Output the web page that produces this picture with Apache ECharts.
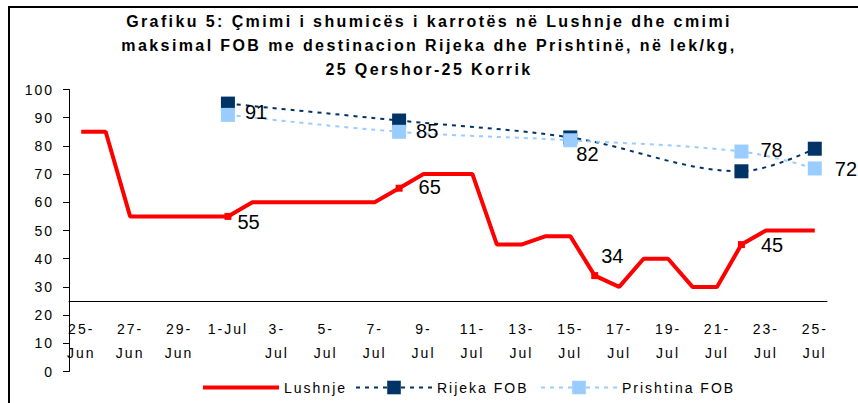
<!DOCTYPE html>
<html>
<head>
<meta charset="utf-8">
<script src="https://cdn.jsdelivr.net/npm/echarts@6/dist/echarts.min.js"></script>
<style>
  html, body { margin: 0; padding: 0; background: #fff; }
  #chart { width: 858px; height: 403px; }
  /* the reference text is letter-spaced (Excel export) */
  #chart text { letter-spacing: 2px; }
  #chart text[style*="16px"] { letter-spacing: 2.4px; }
  #chart text[style*="20px"] { letter-spacing: 0; }
</style>
</head>
<body>
<div id="chart"></div>
<script>
// one category per day, 25 Jun - 25 Jul
var categories = [
  "25-Jun", "26-Jun", "27-Jun", "28-Jun", "29-Jun", "30-Jun",
  "1-Jul", "2-Jul", "3-Jul", "4-Jul", "5-Jul", "6-Jul", "7-Jul", "8-Jul",
  "9-Jul", "10-Jul", "11-Jul", "12-Jul", "13-Jul", "14-Jul", "15-Jul",
  "16-Jul", "17-Jul", "18-Jul", "19-Jul", "20-Jul", "21-Jul", "22-Jul",
  "23-Jul", "24-Jul", "25-Jul"
];
var lushnje = [
  85, 85, 55, 55, 55, 55, 55, 60, 60, 60, 60, 60, 60, 65, 70, 70,
  70, 45, 45, 48, 48, 34, 30, 40, 40, 30, 30, 45, 50, 50, 50
];
// days on which the Lushnje price is marked and labelled
var lushnjeMarked = ["1-Jul", "8-Jul", "16-Jul", "22-Jul"];

var fobDates = ["1-Jul", "8-Jul", "15-Jul", "22-Jul", "25-Jul"];
var rijeka = [95, 89, 83, 71, 79];
var prishtina = [91, 85, 82, 78, 72];

var yMin = 0, yMax = 100, yStep = 10;

// label nudges (px) so they sit where the original has them
var lushnjeLabelOffset = {
  "1-Jul": [6, 6],
  "8-Jul": [16, -1],
  "16-Jul": [3, -20],
  "22-Jul": [16, 0]
};
var prishtinaLabelOffset = {
  "1-Jul": [10, -3],
  "8-Jul": [10, -1],
  "15-Jul": [-1, 14],
  "22-Jul": [12, -2],
  "25-Jul": [13, 1]
};

var FONT = "Liberation Sans";
var RED = "#FF0000", NAVY = "#003366", LIGHT = "#99CCFF";

var lushnjeData = lushnje.map(function (v, i) {
  var day = categories[i];
  if (lushnjeMarked.indexOf(day) < 0) return v;
  return {
    value: v,
    symbol: "rect",
    symbolSize: 7,
    label: { show: true, offset: lushnjeLabelOffset[day] }
  };
});

function fobData(values, offsets) {
  return values.map(function (v, i) {
    var item = { value: [fobDates[i], v] };
    if (offsets) item.label = { show: true, offset: offsets[fobDates[i]] };
    return item;
  });
}

var dataLabel = {
  position: "right",
  distance: 0,
  fontFamily: FONT,
  fontSize: 20,
  color: "#000",
  formatter: function (p) {
    return Array.isArray(p.value) ? p.value[1] : p.value;
  }
};

var legendText = { fontFamily: FONT, fontSize: 14, color: "#000" };

var chart = echarts.init(document.getElementById("chart"), null, { renderer: "svg" });
chart.setOption({
  animation: false,
  backgroundColor: "#fff",
  title: {
    text: "Grafiku 5: Çmimi i shumicës i karrotës në Lushnje dhe cmimi\n" +
      "maksimal FOB me destinacion Rijeka dhe Prishtinë, në lek/kg,\n" +
      "25 Qershor-25 Korrik",
    left: "center",
    top: 9,
    padding: 0,
    textStyle: {
      fontFamily: FONT,
      fontSize: 16,
      fontWeight: "bold",
      lineHeight: 24,
      color: "#000"
    }
  },
  legend: [
    {
      left: 203, top: 380.5, padding: 0,
      itemWidth: 76, itemHeight: 17,
      data: [{ name: "Lushnje", icon: "path://M0,0H76V4H0Z" }],
      textStyle: legendText
    },
    {
      left: 355, top: 380.5, padding: 0,
      itemWidth: 76, itemHeight: 17,
      data: ["Rijeka FOB"],
      textStyle: legendText
    },
    {
      left: 540, top: 380.5, padding: 0,
      itemWidth: 76, itemHeight: 17,
      data: ["Prishtina FOB"],
      textStyle: legendText
    }
  ],
  grid: { left: 69, right: 31, top: 89.5, bottom: 31.5, containLabel: false },
  xAxis: {
    type: "category",
    data: categories,
    boundaryGap: true,
    offset: -70.5,
    axisLine: { lineStyle: { color: "#000", width: 1 } },
    axisTick: { interval: 1, length: 6, lineStyle: { color: "#000" } },
    axisLabel: {
      interval: 1,
      margin: 16,
      fontFamily: FONT,
      fontSize: 14,
      lineHeight: 24,
      color: "#000",
      formatter: function (v) {
        return v === "1-Jul" ? v : v.replace("-", "-\n");
      }
    },
    splitLine: { show: false }
  },
  yAxis: {
    type: "value",
    min: yMin,
    max: yMax,
    interval: yStep,
    axisLine: { show: true, lineStyle: { color: "#000", width: 1 } },
    axisTick: { show: true, length: 6, lineStyle: { color: "#000" } },
    axisLabel: { margin: 15, fontFamily: FONT, fontSize: 14, color: "#000" },
    splitLine: { show: false }
  },
  graphic: [
    { type: "line", shape: { x1: 8, y1: 7, x2: 858, y2: 7 }, style: { stroke: "#000", lineWidth: 2 } },
    { type: "line", shape: { x1: 9, y1: 6, x2: 9, y2: 403 }, style: { stroke: "#000", lineWidth: 2 } }
  ],
  series: [
    {
      name: "Lushnje",
      type: "line",
      data: lushnjeData,
      symbol: "none",
      showAllSymbol: true,
      color: RED,
      itemStyle: { color: RED },
      lineStyle: { color: RED, width: 4 },
      label: dataLabel,
      z: 2
    },
    {
      name: "Rijeka FOB",
      type: "line",
      data: fobData(rijeka, null),
      connectNulls: true,
      smooth: 0.35,
      symbol: "rect",
      symbolSize: 14,
      showAllSymbol: true,
      color: NAVY,
      itemStyle: { color: NAVY },
      lineStyle: { color: NAVY, width: 2, type: [4, 5] },
      z: 3
    },
    {
      name: "Prishtina FOB",
      type: "line",
      data: fobData(prishtina, prishtinaLabelOffset),
      connectNulls: true,
      smooth: 0.35,
      symbol: "rect",
      symbolSize: 14,
      showAllSymbol: true,
      color: LIGHT,
      itemStyle: { color: LIGHT },
      lineStyle: { color: LIGHT, width: 2, type: [4, 5] },
      label: dataLabel,
      z: 4
    }
  ]
});
</script>
</body>
</html>
